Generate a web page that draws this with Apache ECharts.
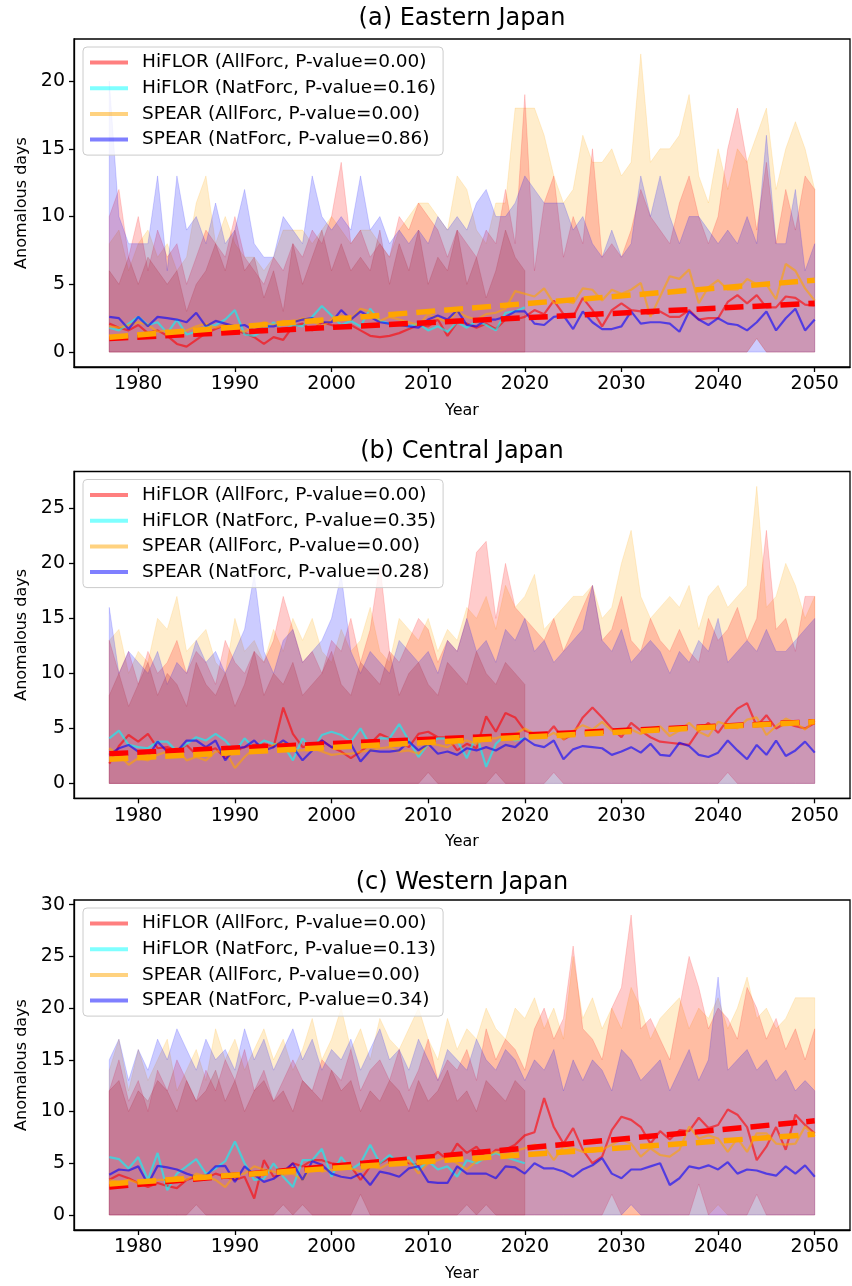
<!DOCTYPE html>
<html><head><meta charset="utf-8">
<script src="https://cdn.jsdelivr.net/npm/echarts@6/dist/echarts.min.js"></script>
<style>html,body{margin:0;padding:0;background:#fff}#c{width:852px;height:1286px}</style>
</head><body><div id="c"></div>
<script>
const years = Array.from({length: 74}, (_, i) => 1977 + i);
const histYears = years.slice(0, 44); // 1977-2020
const xTicks = [1980, 1990, 2000, 2010, 2020, 2030, 2040, 2050];

// ---------- (a) Eastern Japan ----------
const A_yTicks = [0, 5, 10, 15, 20];
const A_names = ['HiFLOR (AllForc, P-value=0.00)', 'HiFLOR (NatForc, P-value=0.16)', 'SPEAR (AllForc, P-value=0.00)', 'SPEAR (NatForc, P-value=0.86)'];
const A_redMean = [2.1,1.8,1.6,2.0,1.4,1.6,1.2,0.6,0.4,0.9, 1.4,1.7,2.0,1.6,1.4,1.1,0.6,1.1,0.9,1.9, 2.1,1.6,2.2,2.0,1.8,2.0,1.6,1.2,1.1,1.2, 1.4,1.7,2.0,1.9,2.4,1.2,2.2,2.1,1.8,2.1, 1.7,2.4,2.4,2.6,3.1,2.8,3.8,2.8,2.6,4.0, 3.1,1.9,3.1,3.6,3.1,3.0,2.8,3.0,2.6,2.6, 3.1,2.4,2.5,2.5,3.7,4.2,3.6,4.2,3.3,3.3, 4.1,4.0,3.5,3.4];
const A_cyanMean = [1.8,1.6,2.1,2.6,2.0,2.2,1.4,2.4,1.3,1.5, 1.9,2.0,2.4,3.1,1.3,1.2,1.6,2.2,1.6,2.0, 1.9,2.6,3.4,2.7,2.0,2.3,1.9,3.2,2.3,2.1, 2.0,1.9,2.1,1.6,1.9,1.5,2.2,1.8,2.3,2.0, 1.6,2.9,3.0,3.3];
const A_orangeMean = [1.9,1.8,2.0,2.2,2.0,1.5,1.6,1.4,1.6,1.9, 2.1,1.8,2.0,1.7,1.5,1.9,2.2,2.0,2.3,2.2, 2.5,2.3,1.9,2.4,2.7,2.4,3.2,3.0,2.3,2.6, 2.4,2.2,2.0,2.8,2.5,2.2,3.0,2.6,2.4,2.8, 2.9,3.2,4.5,4.3,4.1,4.7,3.6,3.8,3.6,4.7, 4.6,3.8,4.6,4.3,4.6,5.1,2.6,4.1,5.6,5.4, 6.1,3.6,4.8,5.3,4.6,4.6,5.4,5.0,5.0,3.9, 6.5,6.0,4.7,3.8];
const A_blueMean = [2.6,2.5,1.7,2.6,1.9,2.6,2.5,2.4,2.2,2.9, 1.9,2.3,2.1,1.9,2.0,1.6,1.9,1.9,2.1,2.2, 2.4,2.5,2.2,2.2,3.1,2.4,3.0,2.6,2.2,2.1, 2.0,1.9,1.8,2.4,2.7,2.4,3.1,2.0,1.9,2.4, 2.4,2.6,3.0,3.0,2.1,2.0,2.6,2.7,1.7,3.0, 2.2,1.7,1.7,1.9,3.0,2.1,2.2,2.2,2.1,1.5, 3.0,2.4,2.0,2.5,2.1,2.0,1.6,2.2,3.0,1.6, 2.5,3.2,1.6,2.4];
const A_redMax = [10,12,7,10,6,9,7,8,5,7, 9,8,7,10,7,6,5,7,6,8, 7,9,8,10,14,8,9,7,8,7, 10,9,11,10,9,7,9,8,7,9, 8,12,8,19,6,11,13,7,10,8, 15,7,8,7,9,12,10,9,8,11, 13,10,8,10,15,18,14,9,14,8, 12,9,13,12];
const A_cyanMax = [6,5,7,5,7,6,5,6,3,5, 6,8,6,9,6,7,4,6,3,8, 5,7,9,6,8,6,7,6,9,5, 8,6,9,5,7,6,9,5,7,4, 6,9,7,6];
const A_orangeMax = [8,9,6,8,9,7,8,6,7,11, 13,8,10,8,7,7,6,7,9,9, 9,8,9,10,9,8,9,9,8,7, 9,10,11,11,10,9,13,12,9,8, 11,11,18,18,18,16,13,11,12,16, 14,14,15,13,14,22,14,15,15,16, 19,13,11,15,12,15,14,16,18,12, 15,17,15,12];
const A_blueMax = [20,10,8,8,8,13,6,13,9,10, 8,11,8,9,12,8,7,7,10,9, 8,13,10,9,10,9,13,9,10,8, 9,8,9,8,10,9,10,9,11,12, 10,10,11,13,12,11,11,11,9,10, 8,7,9,7,8,13,10,13,10,8, 10,10,9,8,9,8,10,8,16,8, 8,12,6,8];
const A_redMinNZ = [[2044, 1]];
const A_cyanMinNZ = [];
const A_orangeMinNZ = [[2044, 1]];
const A_blueMinNZ = [];
const A_trendRed = [1.0, 3.6];
const A_trendOrange = [1.1, 5.3];

// ---------- (b) Central Japan ----------
const B_yTicks = [0, 5, 10, 15, 20, 25];
const B_names = ['HiFLOR (AllForc, P-value=0.00)', 'HiFLOR (NatForc, P-value=0.35)', 'SPEAR (AllForc, P-value=0.00)', 'SPEAR (NatForc, P-value=0.28)'];
const B_redMean = [1.8,3.4,4.4,3.8,4.5,3.2,3.3,3.0,3.5,2.6, 2.9,3.2,2.3,3.0,3.3,3.5,3.6,3.3,6.9,4.5, 3.3,3.5,3.9,3.3,2.9,2.3,2.9,3.6,4.5,4.1, 3.8,3.3,4.5,4.7,4.2,4.2,3.0,3.6,3.2,6.1, 4.7,6.4,6.0,4.8,4.5,4.2,5.2,4.0,4.5,6.0, 6.9,6.0,5.0,4.2,5.5,4.8,4.2,3.8,3.7,3.6, 3.5,4.8,5.5,4.6,5.8,6.8,7.3,5.2,6.2,5.0, 5.5,5.2,5.0,5.5];
const B_cyanMean = [4.1,4.8,3.5,3.3,3.2,3.8,3.8,2.9,3.6,4.2, 3.9,4.5,3.9,2.9,4.1,3.2,3.9,3.6,3.5,2.1, 4.1,3.0,4.4,4.7,4.4,3.8,5.0,3.5,4.1,4.1, 5.4,3.9,2.4,3.6,4.1,4.1,3.9,2.3,4.4,1.5, 3.6,4.4,3.9,4.1];
const B_orangeMean = [3.2,2.6,1.7,2.3,2.1,2.6,2.9,3.2,2.1,2.4, 2.1,2.9,3.0,1.4,2.4,3.2,2.9,3.5,3.8,3.0, 3.0,3.2,2.9,2.6,2.7,2.7,2.9,3.0,3.2,3.3, 2.9,3.0,2.7,3.6,3.5,3.3,3.8,3.9,3.6,4.1, 4.1,4.4,4.5,5.0,4.5,4.1,4.6,4.0,4.8,5.3, 4.9,5.6,4.8,4.6,4.9,4.5,5.0,5.2,4.3,4.8, 5.5,4.7,4.3,5.6,5.3,5.0,5.8,6.0,4.4,5.2, 5.9,5.5,4.9,5.7];
const B_blueMean = [2.6,3.2,3.5,2.9,2.4,3.8,2.9,2.9,3.9,3.9, 3.3,3.9,2.1,3.2,3.3,3.9,3.0,3.3,3.9,3.3, 2.1,3.0,3.9,3.3,3.6,3.6,2.0,3.0,2.9,2.9, 3.0,3.8,3.0,3.6,2.7,2.9,2.6,3.2,3.0,3.3, 3.0,3.5,3.3,4.1,3.5,3.3,3.9,2.2,3.1,3.4, 3.3,3.2,2.6,2.9,3.3,2.8,3.6,2.6,2.5,3.7, 3.4,2.6,2.4,2.8,3.9,3.0,2.2,3.5,2.6,3.9, 2.5,3.0,3.8,2.8];
const B_redMax = [13,10,12,9,12,10,11,13,10,12, 11,9,13,11,10,12,11,13,17,14, 11,12,10,13,12,15,11,14,20,12, 11,13,15,14,11,13,12,15,21,22, 15,20,16,15,14,13,15,12,14,16, 18,13,14,17,13,12,15,13,12,14, 12,11,15,13,14,16,13,15,23,14, 15,12,17,17];
const B_cyanMax = [8,10,7,9,11,8,10,9,7,11, 9,8,10,7,9,12,8,10,9,11, 8,9,10,12,9,8,11,10,9,12, 8,10,11,9,8,11,10,9,12,10, 9,11,10,9];
const B_orangeMax = [13,14,10,12,11,15,14,17,12,13, 14,11,10,15,12,13,11,14,12,15, 13,15,12,11,14,12,13,16,12,11, 15,14,13,15,12,14,13,16,15,17, 14,18,16,17,19,14,15,16,17,17, 18,15,16,20,23,17,15,16,17,16, 18,14,17,18,16,17,18,27,16,17, 20,18,15,17];
const B_blueMax = [16,10,12,11,10,12,9,11,10,13, 11,12,10,12,14,19,12,10,13,14, 11,12,13,15,19,12,10,12,11,10, 13,12,11,12,10,13,12,15,12,13, 11,14,13,15,12,13,11,12,13,14, 18,13,12,14,11,12,13,12,10,12, 11,13,12,15,11,12,13,12,14,12, 12,13,14,15];
const B_redMinNZ = [[2023, 1], [2041, 1]];
const B_cyanMinNZ = [[2010, 1], [2017, 1]];
const B_orangeMinNZ = [];
const B_blueMinNZ = [];
const B_trendRed = [2.7, 5.6];
const B_trendOrange = [2.2, 5.6];

// ---------- (c) Western Japan ----------
const C_yTicks = [0, 5, 10, 15, 20, 25, 30];
const C_names = ['HiFLOR (AllForc, P-value=0.00)', 'HiFLOR (NatForc, P-value=0.13)', 'SPEAR (AllForc, P-value=0.00)', 'SPEAR (NatForc, P-value=0.34)'];
const C_redMean = [3.4,3.9,3.55,3.1,2.7,3.1,2.8,2.6,3.4,3.7, 3.55,4.0,3.7,3.4,3.7,1.6,5.3,3.7,4.0,5.0, 4.7,5.3,5.3,5.0,4.85,4.7,3.4,4.7,5.0,5.5, 5.3,5.0,4.85,5.3,6.1,5.3,6.9,6.0,6.6,5.5, 6.3,6.3,6.8,7.7,8.0,11.3,8.5,6.9,8.4,6.3, 5.0,5.65,8.2,9.5,9.2,8.5,6.9,8.1,7.3,8.2, 8.1,9.4,8.4,8.7,10.2,9.7,8.5,5.3,6.6,8.5, 6.3,9.7,8.7,7.9];
const C_cyanMean = [5.6,5.4,4.5,5.6,3.4,6.0,2.4,4.0,4.7,5.4, 4.0,4.5,5.2,7.1,5.0,3.4,3.5,5.0,3.7,2.7, 5.3,5.3,6.4,3.7,5.6,4.4,5.0,6.8,5.0,5.8, 5.0,5.6,4.4,5.2,4.4,4.7,3.7,5.3,5.0,5.6, 6.0,5.6,5.3,5.0];
const C_orangeMean = [3.4,3.2,3.4,3.1,2.9,3.4,3.4,3.7,3.4,4.0, 3.7,3.4,2.7,3.9,4.0,4.7,4.4,4.2,3.9,4.0, 3.4,4.7,4.2,4.4,4.4,4.5,4.2,4.7,4.5,5.0, 5.3,5.2,4.0,5.0,5.3,5.6,5.0,4.4,5.2,5.8, 6.1,5.8,6.2,6.45,6.8,6.6,5.3,6.6,6.45,6.1, 6.1,6.3,6.8,7.3,6.9,5.65,6.45,5.8,5.65,6.3, 8.55,7.4,7.7,7.4,6.1,7.4,6.1,7.9,7.9,6.9, 6.8,6.9,8.55,7.6];
const C_blueMean = [3.9,4.4,4.3,4.7,3.0,4.75,4.6,4.4,4.0,3.7, 3.8,4.7,4.75,3.2,4.7,3.9,3.2,3.5,4.2,5.0, 3.4,5.2,4.85,4.0,3.7,3.55,4.0,2.9,4.2,4.0, 3.7,4.5,4.7,3.2,3.1,3.1,4.7,4.0,4.0,4.0, 3.55,4.7,4.6,4.0,5.0,4.5,4.5,4.2,3.7,4.4, 4.8,5.5,4.0,3.55,4.4,4.4,4.7,5.0,2.9,3.55, 4.7,4.5,4.8,4.4,5.1,4.0,4.4,4.3,4.0,3.8, 4.7,4.0,4.8,3.7];
const C_redMax = [12,15,11,13,10,14,12,15,13,11, 14,12,15,13,16,12,14,11,13,15, 13,12,15,14,13,16,12,14,15,13, 16,12,14,17,13,15,14,16,13,18, 15,17,16,14,18,20,17,19,26,18, 17,15,20,22,29,18,19,17,15,20, 25,22,18,20,19,17,22,20,17,19, 16,18,15,18];
const C_cyanMax = [12,13,10,12,11,13,12,10,13,11, 12,14,11,13,10,12,13,11,12,10, 13,12,11,14,12,13,10,12,11,13, 12,10,13,11,12,14,11,12,10,13, 12,11,13,12];
const C_orangeMax = [14,17,12,16,13,15,17,12,14,16, 13,18,15,17,14,16,18,15,17,14, 16,19,15,17,20,16,18,15,19,17, 16,18,20,17,15,19,16,18,17,20, 18,17,20,19,21,18,20,17,25,19, 21,18,20,18,22,20,17,19,20,21, 18,20,19,21,18,20,23,19,20,18, 19,21,21,21];
const C_blueMax = [15,17,13,16,14,17,15,18,16,14, 17,15,16,14,18,15,17,14,16,18, 15,17,14,16,15,17,14,16,18,15, 16,14,17,15,13,16,15,14,17,15, 14,16,15,13,15,14,16,12,15,13, 15,14,12,16,15,13,14,15,12,14, 16,13,15,23,14,15,16,14,15,13, 14,12,13,12];
const C_redMinNZ = [[2029, 2], [2038, 3], [2044, 2]];
const C_cyanMinNZ = [[1986, 1], [1995, 1], [1997, 1], [2003, 2], [2014, 1], [2016, 1]];
const C_orangeMinNZ = [[2040, 1]];
const C_blueMinNZ = [[2031, 1]];
const C_trendRed = [2.7, 9.1];
const C_trendOrange = [3.0, 7.8];

// ---------- styling ----------
const FONT = 'DejaVu Sans';
const fillColors = {orange: 'rgba(255,165,0,0.2)', red: 'rgba(255,0,0,0.2)', blue: 'rgba(0,0,255,0.2)', cyan: 'rgba(180,40,60,0.25)'};
const lineColors = ['rgba(255,0,0,0.6)', 'rgba(0,255,255,0.6)', 'rgba(255,165,0,0.6)', 'rgba(0,0,255,0.6)'];
const legendColors = ['rgba(255,0,0,0.5)', 'rgba(0,255,255,0.5)', 'rgba(255,165,0,0.5)', 'rgba(0,0,255,0.5)'];

const panels = [
  {title: '(a) Eastern Japan', top: 39, bottom: 367, ymin: -1.1, ymax: 23.1, yTicks: A_yTicks, names: A_names,
   mean: [A_redMean, A_cyanMean, A_orangeMean, A_blueMean], max: {red: A_redMax, cyan: A_cyanMax, orange: A_orangeMax, blue: A_blueMax},
   minNZ: {red: A_redMinNZ, cyan: A_cyanMinNZ, orange: A_orangeMinNZ, blue: A_blueMinNZ}, trendRed: A_trendRed, trendOrange: A_trendOrange, titleTop: 5},
  {title: '(b) Central Japan', top: 471.5, bottom: 798.3, ymin: -1.35, ymax: 28.35, yTicks: B_yTicks, names: B_names,
   mean: [B_redMean, B_cyanMean, B_orangeMean, B_blueMean], max: {red: B_redMax, cyan: B_cyanMax, orange: B_orangeMax, blue: B_blueMax},
   minNZ: {red: B_redMinNZ, cyan: B_cyanMinNZ, orange: B_orangeMinNZ, blue: B_blueMinNZ}, trendRed: B_trendRed, trendOrange: B_trendOrange, titleTop: 438},
  {title: '(c) Western Japan', top: 900, bottom: 1230, ymin: -1.45, ymax: 30.45, yTicks: C_yTicks, names: C_names,
   mean: [C_redMean, C_cyanMean, C_orangeMean, C_blueMean], max: {red: C_redMax, cyan: C_cyanMax, orange: C_orangeMax, blue: C_blueMax},
   minNZ: {red: C_redMinNZ, cyan: C_cyanMinNZ, orange: C_orangeMinNZ, blue: C_blueMinNZ}, trendRed: C_trendRed, trendOrange: C_trendOrange, titleTop: 869}
];

function lowArray(yrs, pairs) {
  const a = yrs.map(() => 0);
  pairs.forEach(([y, v]) => { const k = yrs.indexOf(y); if (k >= 0) a[k] = v; });
  return a;
}

const grids = [], xAxes = [], yAxes = [], series = [], titles = [], legends = [];
const black = {color: '#000', width: 1.3};

panels.forEach((P, p) => {
  grids.push({left: 74, right: 2, top: P.top, height: P.bottom - P.top, show: true, borderColor: '#000', borderWidth: 1.3, backgroundColor: 'transparent', outerBoundsMode: 'none'});
  xAxes.push({type: 'value', gridIndex: p, min: 1973.35, max: 2053.65,
    axisLine: {show: true, onZero: false, lineStyle: black},
    axisTick: {show: true, customValues: xTicks, length: 5, inside: false, lineStyle: black},
    axisLabel: {customValues: xTicks, formatter: v => String(v), fontSize: 19, color: '#000', fontFamily: FONT, margin: 8},
    splitLine: {show: false},
    name: 'Year', nameLocation: 'middle', nameGap: 36, nameTextStyle: {fontSize: 16, color: '#000', fontFamily: FONT}});
  yAxes.push({type: 'value', gridIndex: p, min: P.ymin, max: P.ymax,
    axisLine: {show: true, onZero: false, lineStyle: black},
    axisTick: {show: true, customValues: P.yTicks, length: 5, inside: false, lineStyle: black},
    axisLabel: {customValues: P.yTicks, formatter: v => String(v), fontSize: 19, color: '#000', fontFamily: FONT, margin: 9},
    splitLine: {show: false},
    name: 'Anomalous days', nameLocation: 'middle', nameGap: 44, nameRotate: 90, nameTextStyle: {fontSize: 16, color: '#000', fontFamily: FONT}});
  titles.push({text: P.title, left: 462, top: P.titleTop, textAlign: 'center', padding: 0,
    textStyle: {fontSize: 24, fontWeight: 'normal', color: '#000', fontFamily: FONT, lineHeight: 28}});

  // shaded ranges (order: SPEAR AllForc, HiFLOR AllForc, SPEAR NatForc, HiFLOR NatForc)
  [['orange', years], ['red', years], ['blue', years], ['cyan', histYears]].forEach(([key, yrs]) => {
    const hi = P.max[key];
    const lo = lowArray(yrs, P.minNZ[key]);
    const color = fillColors[key];
    series.push({type: 'custom', xAxisIndex: p, yAxisIndex: p, silent: true, clip: false,
      data: [[yrs[0], 0]], encode: {x: 0, y: 1},
      renderItem: (params, api) => {
        const pts = [];
        for (let k = 0; k < yrs.length; k++) pts.push(api.coord([yrs[k], hi[k]]));
        for (let k = yrs.length - 1; k >= 0; k--) pts.push(api.coord([yrs[k], lo[k]]));
        return {type: 'polygon', shape: {points: pts}, style: {fill: color, stroke: color, lineWidth: 0.8}};
      }});
  });

  // ensemble means
  P.mean.forEach((m, j) => {
    const yrs = j === 1 ? histYears : years;
    series.push({type: 'line', name: P.names[j], xAxisIndex: p, yAxisIndex: p, symbol: 'none',
      data: yrs.map((y, k) => [y, m[k]]), lineStyle: {color: lineColors[j], width: 2.2}, itemStyle: {color: lineColors[j]}});
  });

  // linear trends (AllForc)
  [[P.trendRed, '#ff0000'], [P.trendOrange, '#ffa500']].forEach(([t, c]) => {
    series.push({type: 'line', xAxisIndex: p, yAxisIndex: p, symbol: 'none', silent: true,
      data: [[1977, t[0]], [2050, t[1]]], lineStyle: {color: c, width: 5.5, type: [19, 9]}});
  });

  legends.push({left: 83, top: P.top + 8, orient: 'vertical', itemWidth: 38, itemHeight: 4, itemGap: 4.7,
    padding: [5, 7, 5, 7], backgroundColor: 'rgba(255,255,255,0.8)', borderColor: '#cccccc', borderWidth: 1, borderRadius: 4,
    selectedMode: false,
    textStyle: {fontFamily: FONT, fontSize: 18.5, color: '#000', lineHeight: 21, padding: [0, 0, 0, 9]},
    data: P.names.map((n, j) => ({name: n, icon: 'rect', itemStyle: {color: legendColors[j], borderWidth: 0}}))});
});

const chart = echarts.init(document.getElementById('c'), null, {renderer: 'canvas'});
chart.setOption({
  animation: false,
  backgroundColor: '#fff',
  textStyle: {fontFamily: FONT},
  title: titles, legend: legends, grid: grids, xAxis: xAxes, yAxis: yAxes, series: series
});
</script>
</body></html>
